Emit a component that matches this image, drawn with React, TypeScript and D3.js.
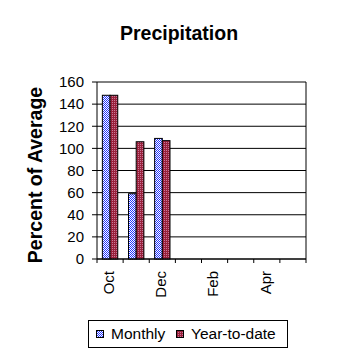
import React from "react";
import * as d3 from "d3";

const months = ["Oct", "Nov", "Dec", "Jan", "Feb", "Mar", "Apr", "May"];
const labeledMonths = ["Oct", "Dec", "Feb", "Apr"];
const monthly: (number | null)[] = [148, 59, 109, null, null, null, null, null];
const yearToDate: (number | null)[] = [148, 106, 107, null, null, null, null, null];
const yTicks = [0, 20, 40, 60, 80, 100, 120, 140, 160];
const seriesNames = ["Monthly", "Year-to-date"];

const W = 358;
const H = 358;
const left = 97;
const right = 306;
const top = 82;
const bottom = 259;

export default function App() {
  const x = d3.scaleBand<string>().domain(months).range([left, right]).padding(0);
  const inner = d3
    .scaleBand<string>()
    .domain(seriesNames)
    .range([0, x.bandwidth()])
    .paddingInner(0)
    .paddingOuter(0.7);
  const y = d3.scaleLinear().domain([0, 160]).range([bottom, top]);
  const font = "'Liberation Sans', Arial, sans-serif";
  const series = [
    { name: "Monthly", values: monthly, fill: "url(#patBlue)" },
    { name: "Year-to-date", values: yearToDate, fill: "url(#patRed)" },
  ];

  return (
    <svg
      width={W}
      height={H}
      style={{ position: "absolute", left: 0, top: 0, background: "#fff" }}
      fontFamily={font}
    >
      <defs>
        <pattern id="patBlue" width="2" height="2" patternUnits="userSpaceOnUse">
          <rect width="2" height="2" fill="#ffffff" />
          <rect x="0" y="0" width="1" height="1" fill="#2233ff" />
          <rect x="1" y="1" width="1" height="1" fill="#2233ff" />
        </pattern>
        <pattern id="patRed" width="2" height="2" patternUnits="userSpaceOnUse">
          <rect width="2" height="2" fill="#99203a" />
          <rect x="0" y="0" width="1" height="1" fill="#c87898" />
        </pattern>
      </defs>
      <rect width={W} height={H} fill="#fff" />

      <text x={179} y={40} textAnchor="middle" fontSize={19.5} fontWeight="bold">
        Precipitation
      </text>

      {/* gridlines */}
      {yTicks.map((t) => (
        <line key={"g" + t} x1={left} x2={right} y1={y(t)} y2={y(t)} stroke="#000" strokeWidth={1} />
      ))}
      {/* right border */}
      <line x1={right} x2={right} y1={top} y2={bottom} stroke="#000" />

      {/* bars */}
      {series.map((s) =>
        months.map((m, i) => {
          const v = s.values[i];
          if (v == null) return null;
          const bx = (x(m) as number) + (inner(s.name) as number);
          return (
            <rect
              key={s.name + m}
              x={bx}
              y={y(v)}
              width={inner.bandwidth()}
              height={y(0) - y(v)}
              fill={s.fill}
              stroke="#000"
              strokeWidth={1}
            />
          );
        })
      )}

      {/* y axis */}
      <line x1={left} x2={left} y1={top} y2={bottom} stroke="#000" />
      {yTicks.map((t) => (
        <g key={"t" + t}>
          <line x1={left - 5} x2={left} y1={y(t)} y2={y(t)} stroke="#000" />
          <text x={84} y={y(t)} dy="0.35em" textAnchor="end" fontSize={15}>
            {t}
          </text>
        </g>
      ))}
      <text
        transform={`translate(35,175) rotate(-90)`}
        textAnchor="middle"
        dy="0.35em"
        fontSize={19.5}
        fontWeight="bold"
      >
        Percent of Average
      </text>

      {/* x axis */}
      <line x1={left} x2={right} y1={bottom} y2={bottom} stroke="#000" />
      {months.map((m) => (
        <line
          key={"xt" + m}
          x1={x(m) as number}
          x2={x(m) as number}
          y1={bottom}
          y2={bottom + 4}
          stroke="#000"
        />
      ))}
      <line x1={right} x2={right} y1={bottom} y2={bottom + 4} stroke="#000" />
      {labeledMonths.map((m) => {
        const cx = (x(m) as number) + x.bandwidth() / 2 - 1.5;
        return (
          <text
            key={"xl" + m}
            transform={`translate(${cx},271) rotate(-90)`}
            textAnchor="end"
            dy="0.35em"
            fontSize={15}
          >
            {m}
          </text>
        );
      })}

      {/* legend */}
      <rect x={88.5} y={320.5} width={199} height={27} fill="#fff" stroke="#000" />
      <rect x={96.5} y={330.5} width={7} height={7} fill="url(#patBlue)" stroke="#000" />
      <text x={111} y={334} dy="0.35em" fontSize={15.5}>
        Monthly
      </text>
      <rect x={176.5} y={330.5} width={7} height={7} fill="url(#patRed)" stroke="#000" />
      <text x={191} y={334} dy="0.35em" fontSize={15.5}>
        Year-to-date
      </text>
    </svg>
  );
}
